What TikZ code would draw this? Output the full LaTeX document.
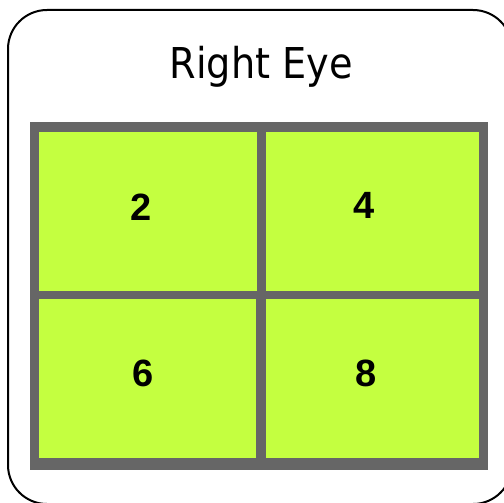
\documentclass[tikz,border=0pt]{standalone}
\usepackage{fontspec}
\setmainfont{Liberation Sans}
\newfontfamily\titlefont{DejaVu Sans Condensed}
\usetikzlibrary{positioning}
\definecolor{cellgreen}{RGB}{196,255,64}
\definecolor{framegray}{RGB}{102,102,102}

\begin{document}
\begin{tikzpicture}[x=1pt, y=-1pt,
  digit/.style={font=\fontsize{38}{40}\selectfont\bfseries, inner sep=0pt}]
\useasboundingbox (0,0) rectangle (504,503);
\draw[line width=2pt, rounded corners=39pt] (8,10) rectangle (512,504);
\node[font=\titlefont\fontsize{42.5}{46}\selectfont, anchor=base] (title) at (261.3,79) {Right Eye};
\fill[framegray] (30,122) rectangle (488,470);
\fill[cellgreen] (39,132) rectangle (257,291);
\fill[cellgreen] (266,132) rectangle (479,291);
\fill[cellgreen] (39,299) rectangle (256,458);
\fill[cellgreen] (266,299) rectangle (479,458);
\node[digit] (n2) at (141.5,207) {2};
\node[digit] (n4) at (364.5,205.5) {4};
\node[digit] (n6) at (143.5,373.5) {6};
\node[digit] (n8) at (366,373.5) {8};
\end{tikzpicture}
\end{document}
